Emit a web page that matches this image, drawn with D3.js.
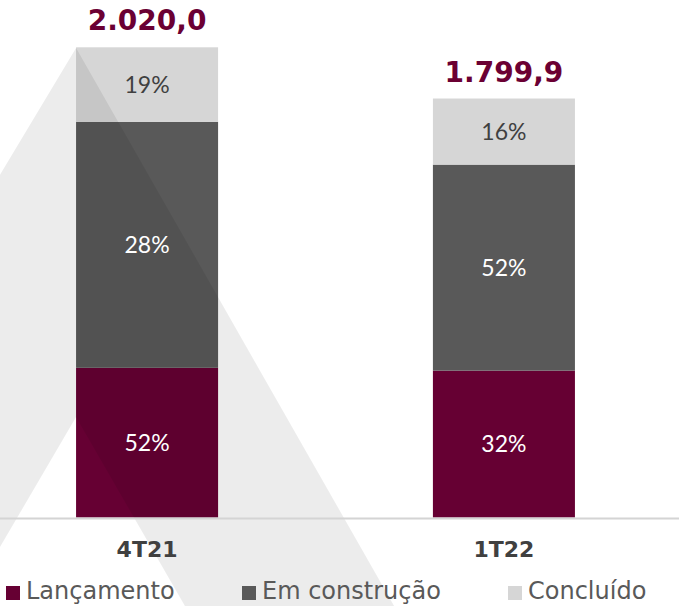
<!DOCTYPE html>
<html>
<head>
<meta charset="utf-8">
<script src="https://cdn.jsdelivr.net/npm/d3@7"></script>
<style>
  html, body { margin: 0; padding: 0; background: #ffffff; }
  svg { display: block; }
</style>
</head>
<body>
<svg id="chart" width="679" height="606"></svg>
<script>
// ---- data ----
const categories = ["4T21", "1T22"];
const totals = [2020.0, 1799.9];
const totalLabels = ["2.020,0", "1.799,9"];
const seriesNames = ["Lançamento", "Em construção", "Concluído"];
const lancamento = [643, 631];
const construcao = [1057, 885];
const concluido = [320, 284];
const lancamentoLabels = ["52%", "32%"];
const construcaoLabels = ["28%", "52%"];
const concluidoLabels = ["19%", "16%"];
const seriesColors = ["#660033", "#595959", "#d6d6d6"];
const labelColors = ["#ffffff", "#ffffff", "#404040"];

// ---- build table ----
const keys = ["lancamento", "construcao", "concluido"];
const labelSets = [lancamentoLabels, construcaoLabels, concluidoLabels];
const rows = categories.map((c, i) => ({
  cat: c, total: totals[i], totalLabel: totalLabels[i],
  lancamento: lancamento[i], construcao: construcao[i], concluido: concluido[i]
}));

const svg = d3.select("#chart");
const W = 679, H = 606;

const x = d3.scaleBand().domain(categories)
  .range([4.7, 646.3]).paddingInner(0.602).paddingOuter(0.2);
const y = d3.scaleLinear().domain([0, 2020]).range([517.5, 47.3]);

const stacked = d3.stack().keys(keys)(rows);

// bars
const gBars = svg.append("g");
stacked.forEach((layer, si) => {
  gBars.selectAll(null).data(layer).enter().append("rect")
    .attr("x", d => x(d.data.cat))
    .attr("width", x.bandwidth())
    .attr("y", d => y(d[1]))
    .attr("height", d => y(d[0]) - y(d[1]))
    .attr("fill", seriesColors[si]);
});

// decorative translucent chevron band (background graphic)
const b0 = x(categories[0]);
const apexY = 48, innerApexY = 417;
const band = d3.path();
band.moveTo(b0, apexY);
band.lineTo(b0 + 0.57 * (H - apexY), H);
band.lineTo(b0 + 0.576 * (H - innerApexY), H);
band.lineTo(b0, innerApexY);
band.lineTo(b0 - 0.585 * (H - innerApexY), H);
band.lineTo(b0 - 0.6 * (H - apexY), H);
band.closePath();
svg.append("path").attr("d", band.toString())
  .attr("fill", "#000").attr("fill-opacity", 0.076);

// baseline
svg.append("line").attr("x1", 0).attr("x2", W)
  .attr("y1", y(0) + 1).attr("y2", y(0) + 1)
  .attr("stroke", "#d4d4d4").attr("stroke-width", 2);

// segment labels
stacked.forEach((layer, si) => {
  svg.selectAll(null).data(layer).enter().append("text")
    .attr("x", d => x(d.data.cat) + x.bandwidth() / 2)
    .attr("y", d => (y(d[0]) + y(d[1])) / 2)
    .attr("dy", "0.36em")
    .attr("text-anchor", "middle")
    .style("font-family", "Lato, 'DejaVu Sans', sans-serif")
    .style("font-weight", 400)
    .style("font-size", "23px")
    .attr("fill", labelColors[si])
    .text((d, i) => labelSets[si][i]);
});

// total labels
svg.selectAll(null).data(rows).enter().append("text")
  .attr("x", d => x(d.cat) + x.bandwidth() / 2)
  .attr("y", d => y(d.total) - 17)
  .attr("text-anchor", "middle")
  .style("font-family", "'DejaVu Sans', sans-serif")
  .style("font-weight", 700)
  .style("font-size", "28px")
  .attr("fill", "#6b0033")
  .text(d => d.totalLabel);

// category labels
svg.selectAll(null).data(categories).enter().append("text")
  .attr("x", d => x(d) + x.bandwidth() / 2)
  .attr("y", y(0) + 39.5)
  .attr("text-anchor", "middle")
  .style("font-family", "'DejaVu Sans', sans-serif")
  .style("font-weight", 700)
  .style("font-size", "22px")
  .attr("fill", "#404040")
  .text(d => d);

// legend
const legendX = [6, 242, 508];
const lg = svg.append("g");
seriesNames.forEach((name, i) => {
  lg.append("rect").attr("x", legendX[i]).attr("y", 586)
    .attr("width", 14).attr("height", 14).attr("fill", seriesColors[i]);
  lg.append("text").attr("x", legendX[i] + 20).attr("y", 598.5)
    .style("font-family", "'DejaVu Sans', sans-serif")
    .style("font-size", "24px")
    .attr("fill", "#595959")
    .text(name);
});
</script>
</body>
</html>
